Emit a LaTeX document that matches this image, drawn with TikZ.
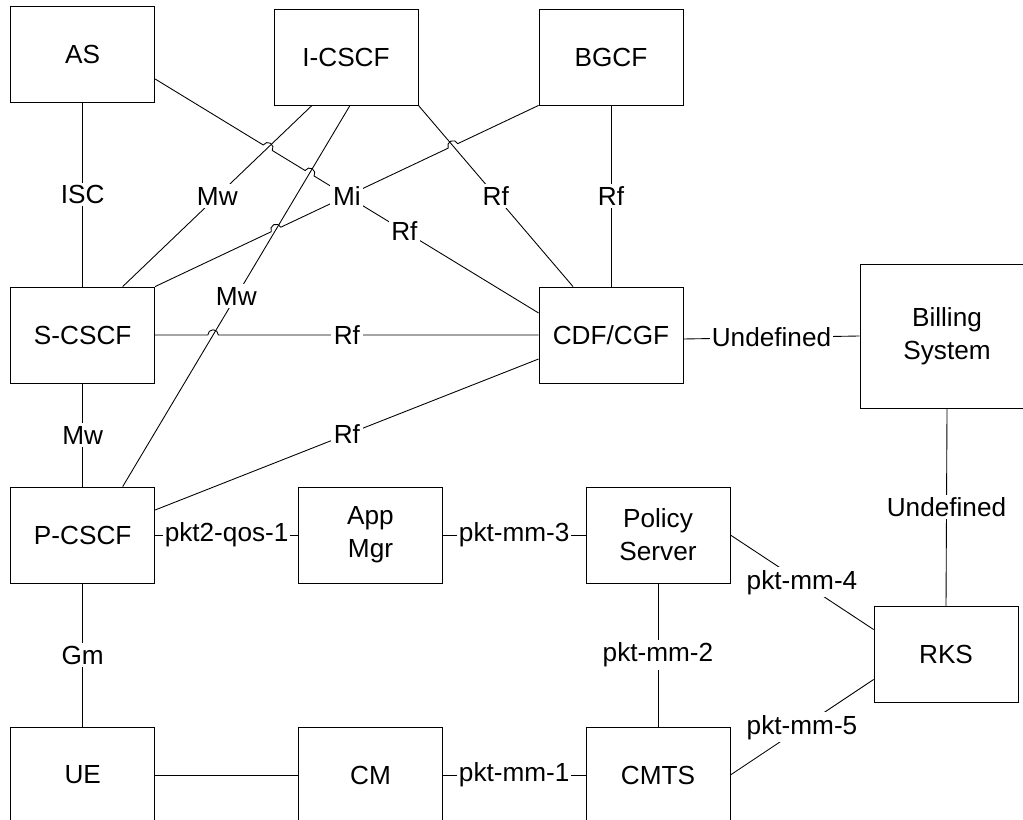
\documentclass[tikz,border=0pt]{standalone}
\usepackage{fontspec}
\setmainfont{Liberation Sans}
\usetikzlibrary{calc}

\begin{document}
\begin{tikzpicture}[x=0.02cm,y=-0.02cm,line width=0.5pt,
        every node/.style={font=\fontsize{14.9}{18.8}\selectfont},
        box/.style={draw,minimum width=2.88cm,minimum height=1.92cm,inner sep=0pt,align=center},
        lbl/.style={fill=white,inner sep=1.5pt}]
        \useasboundingbox (0,0) rectangle (1023,820);
        \clip (0,0) rectangle (1023,820);
        % boxes
        \node[box] (as) at (82.7,54) {AS};
        \node[box] (icscf) at (346,57) {I-CSCF};
        \node[box] (bgcf) at (611,57) {BGCF};
        \node[box] (scscf) at (82.7,335) {S-CSCF};
        \node[box] (cdf) at (611,335) {CDF/CGF};
        \node[box,minimum width=3.48cm,minimum height=2.88cm] (billing) at (947,336) {Billing\\System};
        \node[box] (pcscf) at (82.7,535) {P-CSCF};
        \node[box] (appmgr) at (370.5,535) {App\\Mgr};
        \node[box] (policy) at (658,535) {Policy\\Server};
        \node[box] (rks) at (946,654.5) {RKS};
        \node[box] (ue) at (82.7,775) {UE};
        \node[box] (cm) at (370.5,775) {CM};
        \node[box] (cmts) at (658,775) {CMTS};
        % end points
        \coordinate (asr) at ($(as.east)+(0,25)$);
        \coordinate (cdfa) at ($(cdf.west)+(0,-22)$);
        \coordinate (icscfa) at ($(icscf.south)+(-34,0)$);
        \coordinate (scscfa) at ($(scscf.north)+(40,0)$);
        \coordinate (icscfb) at ($(icscf.south)+(4,0)$);
        \coordinate (pcscfa) at ($(pcscf.north)+(40,0)$);
        \coordinate (icse) at (icscf.south east);
        \coordinate (cdfb) at ($(cdf.north)+(-38,0)$);
        \coordinate (scne) at (scscf.north east);
        \coordinate (bgsw) at (bgcf.south west);
        \coordinate (sce) at (scscf.east);
        \coordinate (cdw) at (cdf.west);
        \coordinate (pcscfb) at ($(pcscf.east)+(0,-25)$);
        \coordinate (cdfc) at ($(cdf.west)+(0,24)$);
        \coordinate (cdfd) at ($(cdf.east)+(0,4)$);
        \coordinate (rksa) at ($(rks.west)+(0,-25)$);
        \coordinate (rksb) at ($(rks.west)+(0,25)$);
        % line jumps
        \coordinate (j1) at (intersection of asr--cdfa and icscfa--scscfa);
        \coordinate (j2) at (intersection of asr--cdfa and icscfb--pcscfa);
        \coordinate (j3) at (intersection of scne--bgsw and icse--cdfb);
        \coordinate (j4) at (intersection of scne--bgsw and icscfb--pcscfa);
        \coordinate (j5) at (intersection of sce--cdw and icscfb--pcscfa);
        % connectors
        \draw (as.south) -- node[lbl] {ISC} (scscf.north);
        \draw (icscfa) -- node[lbl] {Mw} (scscfa);
        \draw (icscfb) -- node[lbl] {Mw} (pcscfa);
        \draw (icse) -- node[lbl] {Rf} (cdfb);
        \draw (bgcf.south) -- node[lbl] {Rf} (cdf.north);
        \draw let \p1=($(cdfa)-(asr)$), \n1={atan2(\y1,\x1)} in
          (asr) -- ($(j1)!3pt!(asr)$) arc[start angle=\n1+180,delta angle=-180,radius=3pt]
          -- ($(j2)!3pt!(asr)$) arc[start angle=\n1+180,delta angle=-180,radius=3pt] -- (cdfa);
        \node[lbl] (rf1) at ($(asr)!0.65!(cdfa)$) {Rf};
        \draw let \p1=($(bgsw)-(scne)$), \n1={atan2(\y1,\x1)} in
          (scne) -- ($(j4)!3pt!(scne)$) arc[start angle=\n1+180,delta angle=-180,radius=3pt]
          -- ($(j3)!3pt!(scne)$) arc[start angle=\n1+180,delta angle=-180,radius=3pt] -- (bgsw);
        \node[lbl] (mi) at ($(scne)!0.5!(bgsw)$) {Mi};
        \draw (sce) -- ($(j5)!3pt!(sce)$) arc[start angle=180,delta angle=-180,radius=3pt] -- (cdw);
        \node[lbl] (rf2) at ($(sce)!0.5!(cdw)$) {Rf};
        \draw (pcscfb) -- node[lbl] {Rf} (cdfc);
        \draw (scscf.south) -- node[lbl] {Mw} (pcscf.north);
        \draw (cdfd) -- node[lbl,inner sep=1pt] {Undefined} (billing.west);
        \draw (billing.south) -- node[lbl] {Undefined} (rks.north);
        \draw (pcscf.east) -- node[lbl,inner sep=1pt] {pkt2-qos-1} (appmgr.west);
        \draw (appmgr.east) -- node[lbl,inner sep=1pt] {pkt-mm-3} (policy.west);
        \draw (policy.east) -- node[lbl] {pkt-mm-4} (rksa);
        \draw (policy.south) -- node[lbl] {pkt-mm-2} (cmts.north);
        \draw (cmts.east) -- node[lbl] {pkt-mm-5} (rksb);
        \draw (pcscf.south) -- node[lbl] {Gm} (ue.north);
        \draw (ue.east) -- (cm.west);
        \draw (cm.east) -- node[lbl,inner sep=1pt] {pkt-mm-1} (cmts.west);
\end{tikzpicture}
\end{document}
